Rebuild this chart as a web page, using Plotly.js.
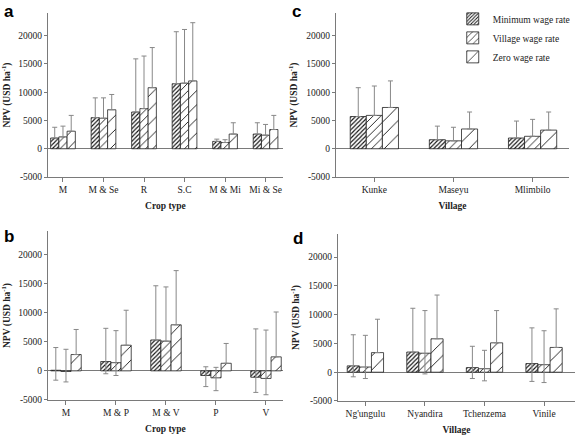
<!DOCTYPE html>
<html>
<head>
<meta charset="utf-8">
<script src="https://cdn.plot.ly/plotly-3.0.1.min.js"></script>
<style>html,body{margin:0;padding:0;background:#fff;}#chart{width:576px;height:436px;}</style>
</head>
<body>
<div id="chart"></div>
<script>
// ---- Data ----
const seriesNames = ['Minimum wage rate', 'Village wage rate', 'Zero wage rate'];

// Panel a: crop type
const catsA = ['M', 'M & Se', 'R', 'S.C', 'M & Mi', 'Mi & Se'];
const aMin = [1900, 5500, 6500, 11500, 1300, 2600];
const aVil = [2100, 5400, 7100, 11600, 1100, 2400];
const aZero = [3100, 6900, 10800, 12000, 2600, 3400];
const aMinHi = [3800, 9000, 15900, 20700, 1700, 4600];
const aVilHi = [4000, 9000, 16400, 21100, 1600, 4300];
const aZeroHi = [5900, 9600, 17900, 22300, 4600, 5900];

// Panel b: crop type
const catsB = ['M', 'M & P', 'M & V', 'P', 'V'];
const bMin = [100, 1600, 5300, -800, -1100];
const bVil = [-100, 1400, 5100, -1200, -1300];
const bZero = [2800, 4400, 7900, 1300, 2400];
const bMinHi = [4000, 7300, 14600, 700, 7200];
const bVilHi = [3700, 6900, 14400, 600, 7000];
const bZeroHi = [7100, 10400, 17200, 4700, 10100];
const bMinLo = [-1600, -500, null, -2700, -3700];
const bVilLo = [-1900, -800, null, -3400, -4100];
const bZeroLo = [null, null, null, null, null];

// Panel c: village
const catsC = ['Kunke', 'Maseyu', 'Mlimbilo'];
const cMin = [5700, 1600, 1900];
const cVil = [5900, 1400, 2200];
const cZero = [7300, 3500, 3300];
const cMinHi = [10800, 4000, 4900];
const cVilHi = [11100, 3800, 5200];
const cZeroHi = [12000, 6500, 6500];

// Panel d: village
const catsD = ["Ng'ungulu", 'Nyandira', 'Tchenzema', 'Vinile'];
const dMin = [1100, 3500, 800, 1500];
const dVil = [900, 3300, 600, 1300];
const dZero = [3400, 5800, 5100, 4300];
const dMinHi = [6500, 11100, 4500, 7700];
const dVilHi = [6400, 10700, 3800, 7200];
const dZeroHi = [9200, 13400, 10700, 11000];
const dMinLo = [-800, null, -1100, -1600];
const dVilLo = [-1100, -300, -1500, -1800];
const dZeroLo = [null, null, null, null];

const yTickVals = [-5000, 0, 5000, 10000, 15000, 20000];
const yTickText = ['-5000', '0', '5000', '10000', '15000', '20000'];

// ---- Styles ----
const SERIF = 'Liberation Serif, Times New Roman, serif';
const AXC = '#7a7a7a';
const patterns = [
  {shape: '/', size: 3, solidity: 0.38, fgcolor: '#111', bgcolor: '#fff'},
  {shape: '/', size: 5.5, solidity: 0.16, fgcolor: '#111', bgcolor: '#fff'},
  {shape: '/', size: 10, solidity: 0.09, fgcolor: '#111', bgcolor: '#fff'}
];

function makeTrace(cats, vals, hi, lo, k, xa, ya, showleg) {
  const up = vals.map((v, i) => hi[i] - v);
  const dn = vals.map((v, i) => (lo && lo[i] !== null && lo[i] !== undefined) ? v - lo[i] : 0);
  return {
    type: 'bar', x: cats, y: vals, name: seriesNames[k],
    xaxis: xa, yaxis: ya, showlegend: showleg,
    marker: {color: '#fff', line: {color: '#222', width: 0.8}, pattern: patterns[k]},
    error_y: {type: 'data', symmetric: false, array: up, arrayminus: dn,
              color: '#888', thickness: 1, width: 2.5}
  };
}

const traces = [];
const panels = [
  {cats: catsA, v: [aMin, aVil, aZero], hi: [aMinHi, aVilHi, aZeroHi], lo: [null, null, null], xa: 'x', ya: 'y', leg: false},
  {cats: catsC, v: [cMin, cVil, cZero], hi: [cMinHi, cVilHi, cZeroHi], lo: [null, null, null], xa: 'x2', ya: 'y2', leg: true},
  {cats: catsB, v: [bMin, bVil, bZero], hi: [bMinHi, bVilHi, bZeroHi], lo: [bMinLo, bVilLo, bZeroLo], xa: 'x3', ya: 'y3', leg: false},
  {cats: catsD, v: [dMin, dVil, dZero], hi: [dMinHi, dVilHi, dZeroHi], lo: [dMinLo, dVilLo, dZeroLo], xa: 'x4', ya: 'y4', leg: false}
];
panels.forEach(p => {
  for (let k = 0; k < 3; k++) traces.push(makeTrace(p.cats, p.v[k], p.hi[k], p.lo[k], k, p.xa, p.ya, p.leg));
});

function xAxis(domain, range, title, anchor) {
  return {
    domain: domain, range: range, anchor: anchor, type: 'category',
    showline: true, linecolor: AXC, linewidth: 1, ticks: 'outside', ticklen: 4, tickcolor: AXC,
    showgrid: false, zeroline: false,
    tickfont: {family: SERIF, size: 9.5, color: '#222'},
    title: {text: '<b>' + title + '</b>', font: {family: SERIF, size: 9.5, color: '#222'}, standoff: 7}
  };
}
function yAxis(domain, anchor) {
  return {
    domain: domain, range: [-5000, 24000], anchor: anchor,
    showline: true, linecolor: AXC, linewidth: 1, ticks: 'outside', ticklen: 3, tickcolor: AXC,
    showgrid: false, zeroline: true, zerolinecolor: AXC, zerolinewidth: 1,
    tickvals: yTickVals, ticktext: yTickText,
    tickfont: {family: SERIF, size: 9.5, color: '#222'},
    title: {text: '<b>NPV (USD ha<sup>-1</sup>)</b>', font: {family: SERIF, size: 9.5, color: '#222'}, standoff: 7}
  };
}

const layout = {
  width: 576, height: 436,
  margin: {l: 0, r: 0, t: 0, b: 0},
  paper_bgcolor: '#fff', plot_bgcolor: '#fff',
  barmode: 'group', bargap: 0.39, bargroupgap: 0,
  font: {family: SERIF, color: '#222'},
  xaxis: xAxis([0.0833, 0.4913], [-0.37, 5.43], 'Crop type', 'y'),
  yaxis: yAxis([0.594, 0.970], 'x'),
  xaxis2: xAxis([0.5833, 0.9878], [-0.485, 2.46], 'Village', 'y2'),
  yaxis2: yAxis([0.594, 0.970], 'x2'),
  xaxis3: xAxis([0.0833, 0.4913], [-0.36, 4.34], 'Crop type', 'y3'),
  yaxis3: yAxis([0.0826, 0.4702], 'x3'),
  xaxis4: xAxis([0.5868, 0.9983], [-0.46, 3.52], 'Village', 'y4'),
  yaxis4: yAxis([0.0803, 0.4633], 'x4'),
  legend: {x: 0.786, y: 0.99, xanchor: 'left', yanchor: 'top', bgcolor: 'rgba(0,0,0,0)',
           font: {family: SERIF, size: 9.5, color: '#222'}, itemwidth: 30},
  annotations: [
    {text: '<b>a</b>', x: 0.004, y: 1.0, xref: 'paper', yref: 'paper', xanchor: 'left', yanchor: 'top', showarrow: false, font: {family: 'Liberation Sans, Arial, sans-serif', size: 17, color: '#000'}},
    {text: '<b>c</b>', x: 0.503, y: 1.0, xref: 'paper', yref: 'paper', xanchor: 'left', yanchor: 'top', showarrow: false, font: {family: 'Liberation Sans, Arial, sans-serif', size: 17, color: '#000'}},
    {text: '<b>b</b>', x: 0.004, y: 0.485, xref: 'paper', yref: 'paper', xanchor: 'left', yanchor: 'top', showarrow: false, font: {family: 'Liberation Sans, Arial, sans-serif', size: 17, color: '#000'}},
    {text: '<b>d</b>', x: 0.505, y: 0.48, xref: 'paper', yref: 'paper', xanchor: 'left', yanchor: 'top', showarrow: false, font: {family: 'Liberation Sans, Arial, sans-serif', size: 17, color: '#000'}}
  ]
};

Plotly.newPlot('chart', traces, layout, {displayModeBar: false, staticPlot: true});
</script>
</body>
</html>
